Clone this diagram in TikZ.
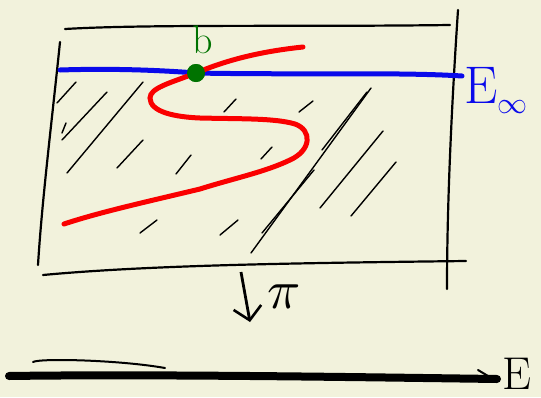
\documentclass[tikz,border=0pt]{standalone}
\usepackage{fontspec}
\usepackage{graphicx}
\usepackage{tikz}
\usetikzlibrary{arrows.meta,positioning}
\definecolor{paper}{RGB}{242,242,220}
\definecolor{sketchgreen}{RGB}{0,115,0}
\definecolor{sketchblue}{RGB}{10,10,235}
\definecolor{sketchred}{RGB}{250,0,0}

\begin{document}
\begin{tikzpicture}[x=1pt,y=-1pt,
  frame/.style={line width=2.2pt,line cap=round},
  hatch/.style={line width=1.4pt,line cap=round},
  fiber/.style={sketchblue,line width=5pt,line cap=round},
  section/.style={sketchred,line width=5pt,line cap=round},
  dot/.style={circle,fill=sketchgreen,minimum size=18pt,inner sep=0pt},
  lbl/.style={inner sep=0pt},
  arr/.style={-{Straight Barb[length=13pt,width=28pt,line width=2.6pt]},line width=2.8pt}
]
\useasboundingbox[fill=paper] (0,0) rectangle (541,397);

% the box
\draw[frame] (65,29) .. controls (150,24) and (300,27) .. (450,25);
\draw[frame] (60,42) .. controls (52,120) and (42,200) .. (38,265);
\draw[frame] (458,10) .. controls (452,100) and (447,200) .. (447,289);
\draw[frame] (43,275) .. controls (150,265) and (300,263) .. (466,261);

% shading
\foreach \xa/\ya/\xb/\yb in {76/82/57/103, 62/133/66/123, 107/92/62/140,
    143/82/67/173, 143/140/117/168, 191/155/176/174, 236/99/224/112,
    313/101/299/112, 272/147/261/159, 157/220/140/233, 238/220/220/235,
    371/88/251/253, 367/92/322/150, 383/131/320/208, 396/162/351/216,
    314/170/262/233}
  \draw[hatch] (\xa,\ya) -- (\xb,\yb);

% fibre E_infty and the section
\coordinate (fibL) at (60,70);
\coordinate (fibR) at (462,76);
\coordinate (secA) at (303,47);
\coordinate (secB) at (64,224);
\node[dot] (b) at (196,73) {};
\draw[fiber] (fibL) .. controls (120,68) and (170,71) .. (b.center)
  .. controls (300,75) and (400,72) .. (fibR);
\draw[section] (secA) .. controls (255,52) and (222,62) .. (b.center)
  .. controls (170,83) and (150,88) .. (150,98)
  .. controls (150,112) and (175,117) .. (200,118)
  .. controls (240,119) and (275,118) .. (295,124)
  .. controls (312,130) and (312,150) .. (290,160)
  .. controls (265,172) and (235,178) .. (200,189)
  .. controls (150,201) and (100,212) .. (secB);
\node[dot] at (b.center) {};

\node[lbl,text=sketchgreen,font=\fontsize{40}{40}\selectfont] (blab) at (203,40) {b};
\node[lbl,text=sketchblue,anchor=base west,font=\fontsize{53}{53}\selectfont]
  (Einf) at (464,103) {E{\normalsize\raisebox{-10pt}{\scalebox{3}{$\infty$}}}};

% projection
\coordinate (pitop) at (241,272);
\coordinate (pibot) at (250,322);
\draw[arr] (pitop) -- (pibot);
\node[lbl] (pi) at (284,297) {\scalebox{5.5}{$\pi$}};

% base
\coordinate (baseL) at (9,376);
\coordinate (baseR) at (497,379);
\draw[line width=8pt,line cap=round] (baseL) .. controls (150,374) and (350,377) .. (baseR);
\draw[line width=2pt,line cap=round] (33,362) .. controls (40,358) and (120,360) .. (165,368);
\draw[line width=2pt,line cap=round] (478,370) -- (488,376);
\node[lbl,anchor=base west,font=\fontsize{46}{46}\selectfont] (E) at (502,389) {E};
\end{tikzpicture}
\end{document}
